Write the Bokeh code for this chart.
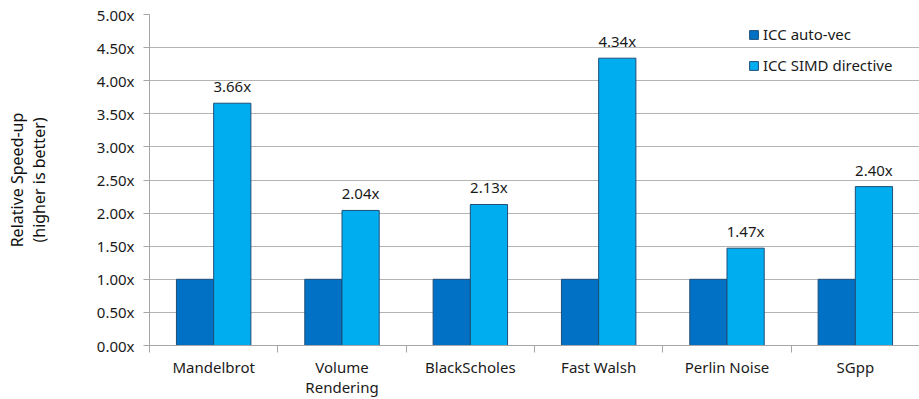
from bokeh.plotting import figure
from bokeh.models import ColumnDataSource, FixedTicker, Range1d, Legend, LegendItem, LabelSet
from bokeh.core.properties import value
from bokeh.embed import file_html
from bokeh.resources import INLINE

categories = ["Mandelbrot", "Volume\nRendering", "BlackScholes", "Fast Walsh", "Perlin Noise", "SGpp"]
auto_vec = [1.0, 1.0, 1.0, 1.0, 1.0, 1.0]
simd_directive = [3.66, 2.04, 2.13, 4.34, 1.47, 2.40]
series_names = ["ICC auto-vec", "ICC SIMD directive"]
y_ticks = [0.0, 0.5, 1.0, 1.5, 2.0, 2.5, 3.0, 3.5, 4.0, 4.5, 5.0]

FONT = "Noto Sans"
FS = "15px"
DARK = "#0071C5"
LIGHT = "#00AEEF"
EDGE = "#1F4E79"
TXT = "#1A1A1A"
GRID = "#B4B4B4"

n = len(categories)
centers = [i + 0.5 for i in range(n)]
bw = 0.29

src = ColumnDataSource(dict(
    xd=[c - bw / 2 for c in centers],
    xl=[c + bw / 2 for c in centers],
    auto=auto_vec,
    simd=simd_directive,
    lab=["%.2fx" % v for v in simd_directive],
))

p = figure(width=919, height=399, output_backend="svg", toolbar_location=None,
           x_range=Range1d(0, n), y_range=Range1d(0, 5),
           min_border_left=149, min_border_right=0, min_border_top=14, min_border_bottom=54)
p.outline_line_color = None
p.background_fill_color = "white"

r1 = p.vbar(x="xd", top="auto", width=bw, source=src, fill_color=DARK, line_color=EDGE, line_width=1)
r2 = p.vbar(x="xl", top="simd", width=bw, source=src, fill_color=LIGHT, line_color=EDGE, line_width=1)

labels = LabelSet(x="xl", y="simd", text="lab", source=src, text_align="center",
                  text_baseline="alphabetic", y_offset=11,
                  text_font=value(FONT), text_font_size=value(FS), text_color=TXT)
p.add_layout(labels)

# x axis
p.xaxis.ticker = FixedTicker(ticks=centers, minor_ticks=list(range(n + 1)))
p.xaxis.major_label_overrides = {c: lab for c, lab in zip(centers, categories)}
p.xaxis.major_tick_line_color = None
p.xaxis.major_tick_out = 0
p.xaxis.major_tick_in = 0
p.xaxis.minor_tick_line_color = "#A6A6A6"
p.xaxis.minor_tick_out = 7
p.xaxis.minor_tick_in = 0
p.xaxis.axis_line_color = "#A6A6A6"
p.xaxis.major_label_text_font = FONT
p.xaxis.major_label_text_font_size = FS
p.xaxis.major_label_text_color = TXT
p.xaxis.major_label_text_line_height = 1.0
p.xaxis.major_label_standoff = 4
p.xgrid.grid_line_color = None

# y axis
p.yaxis.ticker = FixedTicker(ticks=y_ticks)
p.yaxis.major_label_overrides = {t: "%.2fx" % t for t in y_ticks}
p.yaxis.major_tick_line_color = "#A6A6A6"
p.yaxis.major_tick_out = 6
p.yaxis.major_tick_in = 0
p.yaxis.minor_tick_line_color = None
p.yaxis.axis_line_color = "#A6A6A6"
p.yaxis.major_label_text_font = FONT
p.yaxis.major_label_text_font_size = FS
p.yaxis.major_label_text_color = TXT
p.yaxis.major_label_standoff = 9
p.yaxis.axis_label = "Relative Speed-up\n(higher is better)"
p.yaxis.axis_label_text_font = FONT
p.yaxis.axis_label_text_font_size = "16px"
p.yaxis.axis_label_text_font_style = "normal"
p.yaxis.axis_label_text_color = "#111111"
p.yaxis.axis_label_text_line_height = 1.0
p.yaxis.axis_label_standoff = 44
p.ygrid.grid_line_color = GRID
p.ygrid.grid_line_width = 1

legend = Legend(items=[LegendItem(label=series_names[0], renderers=[r1]),
                       LegendItem(label=series_names[1], renderers=[r2])],
                location="top_right")
legend.background_fill_alpha = 0
legend.border_line_color = None
legend.label_text_font = FONT
legend.label_text_font_size = FS
legend.label_text_color = TXT
legend.glyph_width = 11
legend.glyph_height = 11
legend.spacing = 11
legend.label_standoff = 4
legend.label_width = 146
legend.margin = 10
legend.padding = 0
p.add_layout(legend)

open("out.html", "w").write(file_html(p, INLINE))
